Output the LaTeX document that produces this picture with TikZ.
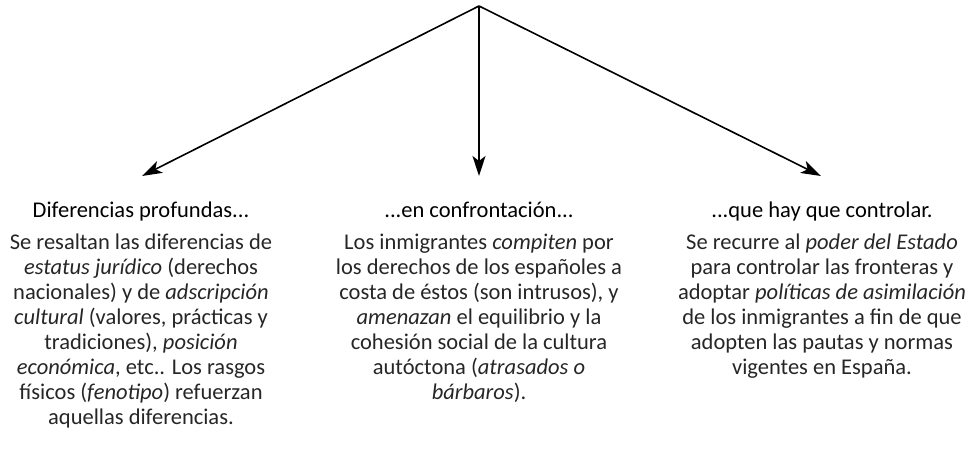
\documentclass[tikz,border=0pt]{standalone}
\usepackage{fontspec}
\setmainfont{Carlito}
\usetikzlibrary{arrows.meta}
\begin{document}
\begin{tikzpicture}[x=1bp,y=-1bp,
  conn/.style={line width=1.6bp, -{Stealth[length=20bp,width=13bp,inset=5bp]}},
  headtxt/.style={inner sep=0, anchor=base, font=\fontsize{22.5bp}{24bp}\selectfont, text=black},
  bodytxt/.style={inner sep=0, anchor=north, align=center, font=\fontsize{22.5bp}{25bp}\selectfont, text=black!85}]
\useasboundingbox (0,0) rectangle (974,464);
\coordinate (apex) at (479,6);
\coordinate (tipL) at (142,176);
\coordinate (tipM) at (479,176);
\coordinate (tipR) at (821,176);
\draw[conn] (apex) -- (tipL);
\draw[conn] (apex) -- (tipM);
\draw[conn] (apex) -- (tipR);
\node[headtxt] (hL) at (141,218) {Diferencias profundas...};
\node[headtxt] (hM) at (479,218) {...en confrontación...};
\node[headtxt] (hR) at (822,218) {...que hay que controlar.};
\node[bodytxt] (bL) at (141,234) {Se resaltan las diferencias de\\
\textit{estatus jurídico} (derechos\\
nacionales) y de \textit{adscripción}\\
\textit{cultural} (valores, prácticas y\\
tradiciones), \textit{posición}\\
\textit{económica}, etc.. Los rasgos\\
físicos (\textit{fenotipo}) refuerzan\\
aquellas diferencias.};
\node[bodytxt] (bM) at (479,234) {Los inmigrantes \textit{compiten} por\\
los derechos de los españoles a\\
costa de éstos (son intrusos), y\\
\textit{amenazan} el equilibrio y la\\
cohesión social de la cultura\\
autóctona (\textit{atrasados o}\\
\textit{bárbaros}).};
\node[bodytxt] (bR) at (822,234) {Se recurre al \textit{poder del Estado}\\
para controlar las fronteras y\\
adoptar \textit{políticas de asimilación}\\
de los inmigrantes a fin de que\\
adopten las pautas y normas\\
vigentes en España.};
\end{tikzpicture}
\end{document}
